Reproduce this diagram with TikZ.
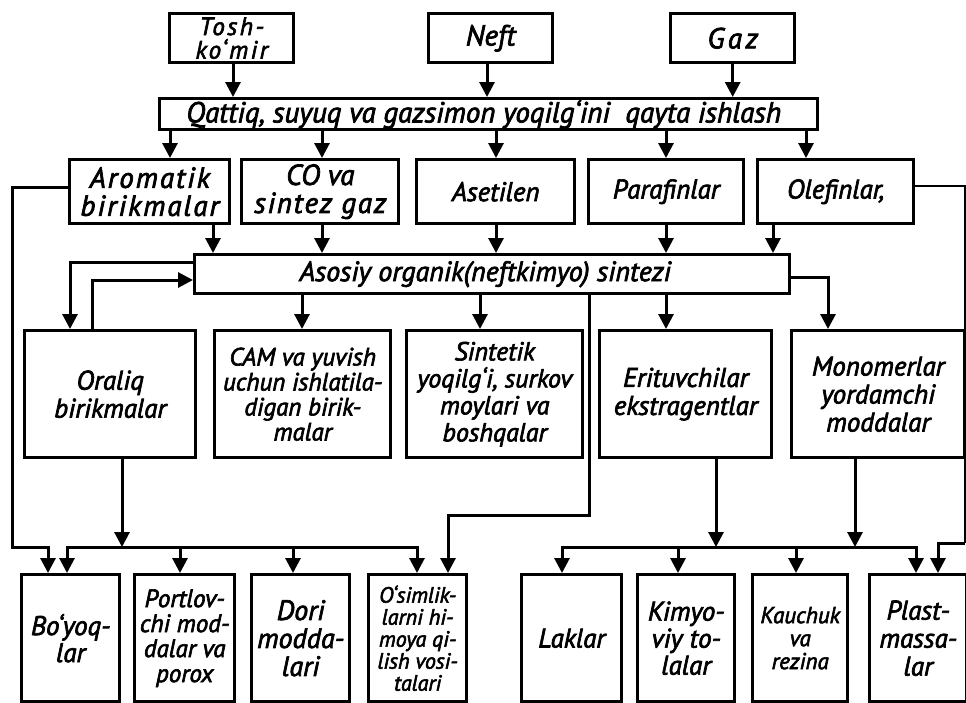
\documentclass[tikz,border=0pt]{standalone}
\usepackage{fontspec}
\setmainfont{PT Sans}[ItalicFeatures={FakeBold=2.5}]
\usetikzlibrary{arrows.meta}
\newcommand\fs[2]{\fontsize{#1pt}{#2pt}\selectfont}
\newcommand\lsp[2]{{\addfontfeatures{LetterSpace=#1}#2}}
\newcommand\bx[7][]{\node[box,anchor=north west,minimum width={(#5-#3)*1pt},minimum height={(#6-#4)*1pt},#1] (#2) at (#3,#4) {#7};}
\tikzset{
  box/.style={draw, line width=3.4pt, inner sep=0pt, align=center, font=\itshape\fs{27}{27}},
  arr/.style={line width=3pt, -{Triangle[length=15pt,width=15pt]}},
  thin/.style={line width=1.6pt}
}
\begin{document}
\begin{tikzpicture}[x=1pt,y=-1pt]
\useasboundingbox (0,0) rectangle (966,702);
% top
\bx[font=\itshape\fs{25}{23.5}]{tosh}{168}{12}{292}{61}{\lsp{10}{Tosh-}\\\lsp{10}{ko‘mir}}
\bx[font=\itshape\fs{29}{29}]{neft}{427}{12}{551}{61}{Neft}
\bx[font=\itshape\fs{29}{29}]{gaz}{669}{12}{793}{61}{\lsp{12}{Gaz}}
\bx[font=\itshape\fs{29}{29}]{qattiq}{158}{97}{816}{128}{Qattiq, suyuq va gazsimon yoqilg‘ini\ \ qayta ishlash\hspace*{10pt}}
% row 2
\bx[font=\itshape\fs{29}{28}]{arom}{68}{158}{228}{222}{\lsp{7}{Aromatik}\\\lsp{7}{birikmalar}}
\bx[font=\itshape\fs{29}{28}]{co}{240}{158}{397}{222}{CO va\\\lsp{6}{sintez gaz}}
\bx{aset}{415}{158}{573}{222}{Asetilen}
\bx{paraf}{587}{158}{742}{222}{Parafinlar}
\bx{olef}{756}{158}{912}{222}{Olefinlar,}
% asosiy
\bx[font=\itshape\fs{28}{28}]{asosiy}{193}{253}{788}{292}{Asosiy organik(neftkimyo) sintezi\hspace*{14pt}}
% row 3
\bx[font=\itshape\fs{27}{28}]{oraliq}{23}{329}{194}{456}{Oraliq\\birikmalar}
\bx[font=\itshape\fs{25}{25}]{cam}{213}{329}{389}{456}{CAM va yuvish\\uchun ishlatila-\\digan birik-\\malar}
\bx[font=\itshape\fs{26}{27}]{sint}{405}{329}{581}{456}{Sintetik\\yoqilg‘i, surkov\\moylari va\\boshqalar}
\bx[font=\itshape\fs{27}{28}]{erit}{598}{329}{770}{456}{Erituvchilar\\ekstragentlar}
\bx[font=\itshape\fs{27}{28}]{mono}{790}{329}{963}{456}{Monomerlar\\yordamchi\\moddalar}
% bottom
\bx[font=\itshape\fs{27}{27}]{boy}{20}{573}{118}{700}{Bo‘yoq-\\lar}
\bx[font=\itshape\fs{25}{25}]{port}{133}{573}{233}{700}{Portlov-\\chi mod-\\dalar va\\porox}
\bx[font=\itshape\fs{28}{28}]{dori}{250}{573}{348}{700}{Dori\\modda-\\lari}
\bx[font=\itshape\fs{22}{22}]{osim}{367}{573}{465}{700}{O‘simlik-\\larni hi-\\moya qi-\\lish vosi-\\talari}
\bx{lak}{520}{573}{620}{700}{Laklar}
\bx[font=\itshape\fs{27}{27}]{kim}{636}{573}{733}{700}{Kimyo-\\viy to-\\lalar}
\bx[font=\itshape\fs{23}{23}]{kau}{751}{573}{846}{700}{Kauchuk\\va\\rezina}
\bx[font=\itshape\fs{27}{28}]{plast}{868}{573}{965}{700}{Plast-\\massa-\\lar}
% top arrows
\draw[arr] (233,0 |- tosh.south) -- (233,0 |- qattiq.north);
\draw[arr] (487,0 |- neft.south) -- (487,0 |- qattiq.north);
\draw[arr] (gaz.south) -- (gaz.south |- qattiq.north);
\foreach \n/\x in {arom/170, co/322, aset/496, paraf/666, olef/806}
  \draw[arr] (\x,0 |- qattiq.south) -- (\x,0 |- \n.north);
\foreach \n/\x in {arom/213, co/322, aset/496, paraf/666, olef/773}
  \draw[arr] (\x,0 |- \n.south) -- (\x,0 |- asosiy.north);
% side lines
\draw[arr] (arom.west |- 0,187) -- (12,187) -- (12,547) -| (48,0 |- boy.north);
\draw[thin] (olef.east |- 0,186) -- (965,186) -- (965,543);
\draw[arr] (965,543) -| (938,0 |- plast.north);
% loops
\draw[arr] (asosiy.west |- 0,262) -| (70,0 |- oraliq.north);
\draw[arr] (92,0 |- oraliq.north) |- (asosiy.west |- 0,280);
% asosiy down
\foreach \n/\x in {cam/302, sint/480, erit/666}
  \draw[arr] (\x,0 |- asosiy.south) -- (\x,0 |- \n.north);
\draw[arr] (asosiy.east |- 0,277) -| (828,0 |- mono.north);
\draw[arr] (589,0 |- asosiy.south) -- (589,515) -| (448,0 |- osim.north);
% left bus
\coordinate (lb) at (122,547);
\draw[arr] (122,0 |- oraliq.south) -- (lb);
\draw[arr] (lb) -| (67,0 |- boy.north);
\draw[arr] (lb) -| (417,0 |- osim.north);
\draw[arr] (180,547) -- (180,0 |- port.north);
\draw[arr] (293,547) -- (293,0 |- dori.north);
% right bus
\coordinate (rb) at (716,547);
\draw[arr] (716,0 |- erit.south) -- (rb);
\draw[arr] (855,0 |- mono.south) -- (855,547);
\draw[arr] (rb) -| (562,0 |- lak.north);
\draw[arr] (rb) -| (916,0 |- plast.north);
\draw[arr] (678,547) -- (678,0 |- kim.north);
\draw[arr] (796,547) -- (796,0 |- kau.north);
\end{tikzpicture}
\end{document}
